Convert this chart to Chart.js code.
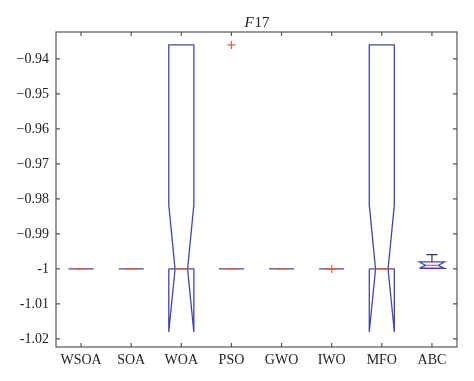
<!DOCTYPE html>
<html>
<head>
<meta charset="utf-8">
<script src="https://cdn.jsdelivr.net/npm/chart.js@4"></script>
<style>
  body { margin: 0; background: #fff; }
  canvas { display: block; }
</style>
</head>
<body>
<canvas id="box" width="474" height="381"></canvas>
<script>
    // --- DATA ---
    const categories = ['WSOA', 'SOA', 'WOA', 'PSO', 'GWO', 'IWO', 'MFO', 'ABC'];
    const q1        = [-1, -1, -1,      -1, -1, -1, -1,      -0.9998];
    const medians   = [-1, -1, -1,      -1, -1, -1, -1,      -0.9990];
    const q3        = [-1, -1, -0.936,  -1, -1, -1, -0.936,  -0.9980];
    const notchLow  = [-1, -1, -1.018,  -1, -1, -1, -1.018,  -0.9998];
    const notchHigh = [-1, -1, -0.9817, -1, -1, -1, -0.9817, -0.9980];
    const whiskLow  = [-1, -1, -1,      -1, -1, -1, -1,      -1];
    const whiskHigh = [-1, -1, -0.936,  -1, -1, -1, -0.936,  -0.9959];
    const outlierCat = [4, 6];
    const outlierVal = [-0.936, -1.0];
    const yTicks = [-0.94, -0.95, -0.96, -0.97, -0.98, -0.99, -1, -1.01, -1.02];
    const yTickLabels = ['\u22120.94', '\u22120.95', '\u22120.96', '\u22120.97', '\u22120.98', '\u22120.99', '-1', '-1.01', '-1.02'];

    const BOX = '#4646a2';
    const MED = '#e2603c';
    const HW = 0.25, NW = 0.125, CAP = 0.11;

    // build polylines from the stats, gaps (null) between boxes
    const outline = [], medLines = [], whiskers = [];
    categories.forEach((c, i) => {
        const x = i + 1;
        [[x-HW, q1[i]], [x-HW, notchLow[i]], [x-NW, medians[i]], [x-HW, notchHigh[i]], [x-HW, q3[i]],
         [x+HW, q3[i]], [x+HW, notchHigh[i]], [x+NW, medians[i]], [x+HW, notchLow[i]], [x+HW, q1[i]],
         [x-HW, q1[i]]].forEach(p => outline.push({x: p[0], y: p[1]}));
        outline.push({x: x, y: null});
        medLines.push({x: x-NW, y: medians[i]}, {x: x+NW, y: medians[i]}, {x: x, y: null});
        // whiskers hidden inside the box when they collapse onto it
        if (whiskHigh[i] !== q3[i]) {
            whiskers.push({x: x, y: q3[i]}, {x: x, y: whiskHigh[i]}, {x: x, y: null});
            whiskers.push({x: x-CAP, y: whiskHigh[i]}, {x: x+CAP, y: whiskHigh[i]}, {x: x, y: null});
        }
        if (whiskLow[i] !== q1[i]) {
            whiskers.push({x: x, y: q1[i]}, {x: x, y: whiskLow[i]}, {x: x, y: null});
        }
    });
    const outliers = outlierCat.map((c, i) => ({x: c, y: outlierVal[i]}));

    // --- FRAME, INNER TICKS AND TITLE ---
    const framePlugin = {
        id: 'frame',
        afterDraw(chart) {
            const {ctx, chartArea: a, scales} = chart;
            ctx.save();
            ctx.strokeStyle = '#555';
            ctx.lineWidth = 1.2;
            ctx.strokeRect(a.left, a.top, a.right - a.left, a.bottom - a.top);
            ctx.beginPath();
            categories.forEach((c, i) => {
                const px = scales.x.getPixelForValue(i + 1);
                ctx.moveTo(px, a.bottom); ctx.lineTo(px, a.bottom - 4);
                ctx.moveTo(px, a.top); ctx.lineTo(px, a.top + 4);
            });
            yTicks.forEach(v => {
                const py = scales.y.getPixelForValue(v);
                ctx.moveTo(a.left, py); ctx.lineTo(a.left + 4, py);
                ctx.moveTo(a.right, py); ctx.lineTo(a.right - 4, py);
            });
            ctx.stroke();
            // title: italic F + upright 17
            ctx.fillStyle = '#222';
            ctx.textBaseline = 'alphabetic';
            const it = 'italic 15px "Liberation Serif", serif', up = '15px "Liberation Serif", serif';
            ctx.font = it; const w1 = ctx.measureText('F').width;
            ctx.font = up; const w2 = ctx.measureText('17').width;
            const x0 = (a.left + a.right) / 2 - (w1 + w2) / 2;
            ctx.font = it; ctx.fillText('F', x0, 27);
            ctx.font = up; ctx.fillText('17', x0 + w1 + 1, 27);
            ctx.restore();
        }
    };

    const font = { family: '"Liberation Serif", serif', size: 14 };

    new Chart(document.getElementById('box').getContext('2d'), {
        type: 'line',
        data: {
            datasets: [
                { data: outliers, showLine: false, pointStyle: 'cross', pointRadius: 4, pointBorderWidth: 1.2,
                  pointBorderColor: MED, order: 0 },
                { data: medLines, borderColor: MED, borderWidth: 1.3, pointRadius: 0, spanGaps: false, order: 1 },
                { data: outline, borderColor: BOX, borderWidth: 1.3, pointRadius: 0, spanGaps: false, order: 2 },
                { data: whiskers, borderColor: '#33335a', borderWidth: 1.2, pointRadius: 0, spanGaps: false, order: 3 }
            ]
        },
        options: {
            responsive: false,
            animation: false,
            devicePixelRatio: 1,
            layout: { padding: { top: 32, right: 17, left: 0, bottom: 0 } },
            scales: {
                x: {
                    type: 'linear', min: 0.5, max: 8.5,
                    grid: { display: false, drawTicks: false },
                    border: { display: false },
                    afterBuildTicks: s => { s.ticks = categories.map((c, i) => ({ value: i + 1 })); },
                    afterFit: s => { s.height = 34; },
                    ticks: { autoSkip: false, maxRotation: 0, padding: 5, color: '#222', font,
                             callback: v => categories[v - 1] }
                },
                y: {
                    min: -1.0223, max: -0.9323,
                    grid: { display: false, drawTicks: false },
                    border: { display: false },
                    afterBuildTicks: s => { s.ticks = yTicks.map(v => ({ value: v })); },
                    afterFit: s => { s.width = 56; },
                    ticks: { padding: 7, color: '#222', font,
                             callback: v => yTickLabels[yTicks.findIndex(t => Math.abs(t - v) < 1e-9)] }
                }
            },
            plugins: { legend: { display: false }, tooltip: { enabled: false }, title: { display: false } }
        },
        plugins: [framePlugin]
    });
</script>
</body>
</html>
